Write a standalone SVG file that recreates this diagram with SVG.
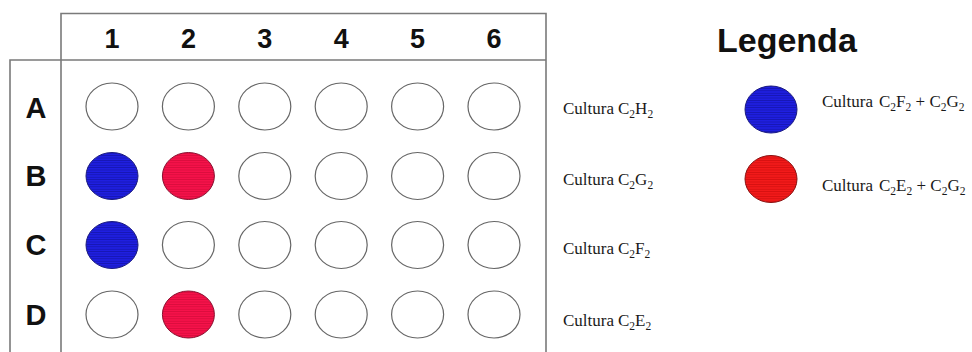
<svg xmlns="http://www.w3.org/2000/svg" width="972" height="352" viewBox="0 0 972 352">
<style>
.hdr{font-family:"Liberation Sans",Arial,sans-serif;font-weight:bold;font-size:27px;fill:#111;text-anchor:middle}
.row{font-size:29px}
.leg{font-family:"Liberation Sans",Arial,sans-serif;font-weight:bold;font-size:34px;fill:#111}
.lbl{font-family:"Liberation Serif","Times New Roman",serif;font-size:17px;fill:#1a1a1a}
.sub{font-size:11.5px}
.frame{fill:none;stroke:#7a7a7a;stroke-width:1.6}
.well{fill:#fff;stroke:#666;stroke-width:1.2}
.blue{fill:url(#pb);stroke:#1a1a80;stroke-width:1}
.red{fill:url(#pr);stroke:#8a1030;stroke-width:1}
.red2{fill:url(#pr2);stroke:#8a1010;stroke-width:1}
</style>
<defs>
<pattern id="pb" width="6" height="2.4" patternUnits="userSpaceOnUse">
<rect width="6" height="2.4" fill="#1f1fe0"/>
<rect y="1.6" width="6" height="0.8" fill="#1616b0"/>
</pattern>
<pattern id="pr" width="6" height="2.4" patternUnits="userSpaceOnUse">
<rect width="6" height="2.4" fill="#f5124a"/>
<rect y="1.6" width="6" height="0.8" fill="#d80c3c"/>
</pattern>
<pattern id="pr2" width="6" height="2.4" patternUnits="userSpaceOnUse">
<rect width="6" height="2.4" fill="#f21a1a"/>
<rect y="1.6" width="6" height="0.8" fill="#d41010"/>
</pattern>
</defs>
<g id="plate-frame">
<path class="frame" d="M61,360 V13.5 H546 V360 M10,360 V60 H546"/>
</g>
<g id="col-headers">
<text class="hdr" x="112" y="48">1</text>
<text class="hdr" x="188.4" y="48">2</text>
<text class="hdr" x="264.8" y="48">3</text>
<text class="hdr" x="341.2" y="48">4</text>
<text class="hdr" x="417.6" y="48">5</text>
<text class="hdr" x="494" y="48">6</text>
</g>
<g id="row-headers">
<text class="hdr row" x="36" y="117.5">A</text>
<text class="hdr row" x="36" y="186">B</text>
<text class="hdr row" x="36" y="255">C</text>
<text class="hdr row" x="36" y="324.5">D</text>
</g>
<g id="row-A">
<ellipse class="well" cx="112" cy="106.5" rx="26" ry="23.5"/>
<ellipse class="well" cx="188.4" cy="106.5" rx="26" ry="23.5"/>
<ellipse class="well" cx="264.8" cy="106.5" rx="26" ry="23.5"/>
<ellipse class="well" cx="341.2" cy="106.5" rx="26" ry="23.5"/>
<ellipse class="well" cx="417.6" cy="106.5" rx="26" ry="23.5"/>
<ellipse class="well" cx="494" cy="106.5" rx="26" ry="23.5"/>
</g>
<g id="row-B">
<ellipse class="blue" cx="112" cy="176" rx="26" ry="23.5"/>
<ellipse class="red" cx="188.4" cy="176" rx="26" ry="23.5"/>
<ellipse class="well" cx="264.8" cy="176" rx="26" ry="23.5"/>
<ellipse class="well" cx="341.2" cy="176" rx="26" ry="23.5"/>
<ellipse class="well" cx="417.6" cy="176" rx="26" ry="23.5"/>
<ellipse class="well" cx="494" cy="176" rx="26" ry="23.5"/>
</g>
<g id="row-C">
<ellipse class="blue" cx="112" cy="245" rx="26" ry="23.5"/>
<ellipse class="well" cx="188.4" cy="245" rx="26" ry="23.5"/>
<ellipse class="well" cx="264.8" cy="245" rx="26" ry="23.5"/>
<ellipse class="well" cx="341.2" cy="245" rx="26" ry="23.5"/>
<ellipse class="well" cx="417.6" cy="245" rx="26" ry="23.5"/>
<ellipse class="well" cx="494" cy="245" rx="26" ry="23.5"/>
</g>
<g id="row-D">
<ellipse class="well" cx="112" cy="314.5" rx="26" ry="23.5"/>
<ellipse class="red" cx="188.4" cy="314.5" rx="26" ry="23.5"/>
<ellipse class="well" cx="264.8" cy="314.5" rx="26" ry="23.5"/>
<ellipse class="well" cx="341.2" cy="314.5" rx="26" ry="23.5"/>
<ellipse class="well" cx="417.6" cy="314.5" rx="26" ry="23.5"/>
<ellipse class="well" cx="494" cy="314.5" rx="26" ry="23.5"/>
</g>
<g id="row-labels">
<text class="lbl" x="563" y="114">Cultura <tspan x="618">C</tspan><tspan class="sub" dy="4">2</tspan><tspan dy="-4">H</tspan><tspan class="sub" dy="4">2</tspan></text>
<text class="lbl" x="563" y="184.5">Cultura <tspan x="618">C</tspan><tspan class="sub" dy="4">2</tspan><tspan dy="-4">G</tspan><tspan class="sub" dy="4">2</tspan></text>
<text class="lbl" x="563" y="254">Cultura <tspan x="618">C</tspan><tspan class="sub" dy="4">2</tspan><tspan dy="-4">F</tspan><tspan class="sub" dy="4">2</tspan></text>
<text class="lbl" x="563" y="325.5">Cultura <tspan x="618">C</tspan><tspan class="sub" dy="4">2</tspan><tspan dy="-4">E</tspan><tspan class="sub" dy="4">2</tspan></text>
</g>
<g id="legend">
<text class="leg" x="717" y="52">Legenda</text>
<ellipse class="blue" cx="771" cy="109.5" rx="26" ry="23.5"/>
<ellipse class="red2" cx="771" cy="179" rx="26" ry="23.5"/>
<text class="lbl" x="822" y="106.5">Cultura <tspan x="879">C</tspan><tspan class="sub" dy="4">2</tspan><tspan dy="-4">F</tspan><tspan class="sub" dy="4">2</tspan><tspan dy="-4"> + C</tspan><tspan class="sub" dy="4">2</tspan><tspan dy="-4">G</tspan><tspan class="sub" dy="4">2</tspan></text>
<text class="lbl" x="822" y="190.5">Cultura <tspan x="879">C</tspan><tspan class="sub" dy="4">2</tspan><tspan dy="-4">E</tspan><tspan class="sub" dy="4">2</tspan><tspan dy="-4"> + C</tspan><tspan class="sub" dy="4">2</tspan><tspan dy="-4">G</tspan><tspan class="sub" dy="4">2</tspan></text>
</g>
</svg>
